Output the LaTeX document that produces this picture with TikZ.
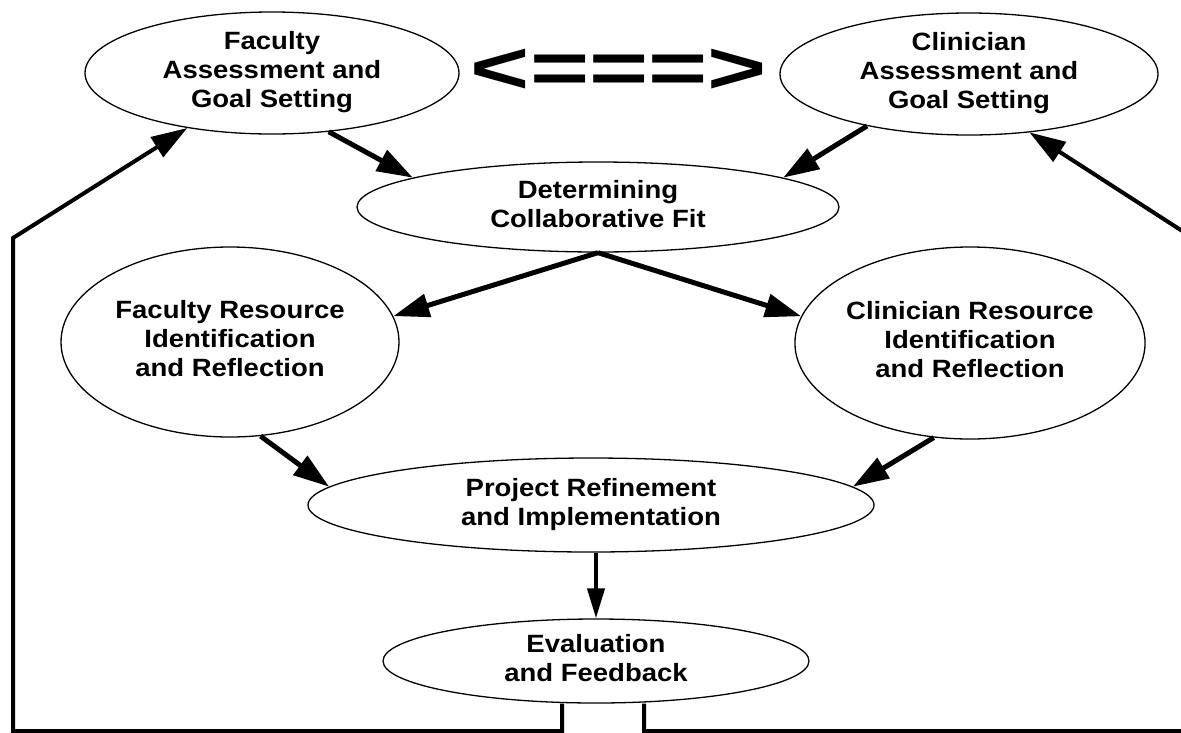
\documentclass[tikz,border=0pt]{standalone}
\usepackage{fontspec}
\setmainfont{Liberation Sans}
\usepackage{graphicx}
\usetikzlibrary{shapes.geometric,arrows.meta}
\newcommand\elltext[1]{\smash{\raisebox{-6.25pt}{\scalebox{1.1}[1]{\begin{tabular}{@{}c@{}}#1\end{tabular}}}}}
\begin{document}
\begin{tikzpicture}[x=1pt,y=-1pt,
  ell/.style={ellipse, draw, line width=1.3pt, inner sep=0pt, font=\bfseries\fontsize{25}{29}\selectfont},
  arr/.style={line width=5pt, -{Triangle[length=36pt,width=23pt]}},
  fb/.style={line width=4pt, line join=miter, -{Triangle[length=36pt,width=23pt]}}]
\useasboundingbox (0,0) rectangle (1181,732);
\fill[white] (0,0) rectangle (1181,732);
\node[ell, minimum width=374pt, minimum height=122pt] (facA) at (272,73) {\elltext{Faculty\\Assessment and\\Goal Setting}};
\node[ell, minimum width=378pt, minimum height=122pt] (clinA) at (969,74) {\elltext{Clinician\\Assessment and\\Goal Setting}};
\node[ell, minimum width=482pt, minimum height=90pt] (det) at (598,207) {\elltext{Determining\\Collaborative Fit}};
\node[ell, minimum width=338pt, minimum height=190pt] (facR) at (230,342) {\elltext{Faculty Resource\\Identification\\and Reflection}};
\node[ell, minimum width=340pt, minimum height=192pt] (clinR) at (970,343) {\elltext{Clinician Resource\\Identification\\and Reflection}};
\node[ell, minimum width=566pt, minimum height=94pt] (proj) at (591,505) {\elltext{Project Refinement\\and Implementation}};
\node[ell, minimum width=426pt, minimum height=84pt] (eval) at (596,661) {\elltext{Evaluation\\and Feedback}};
\node[inner sep=0pt, font=\bfseries\fontsize{74}{80}\selectfont] (dbl) at (619,71) {\scalebox{1.37}[1]{<===>}};
\draw[arr] (facA.-46) -- (det.171);
\draw[arr] (clinA.207) -- (det.9);
\draw[arr] (det.south) -- (facR.9);
\draw[arr] (det.south) -- (clinR.171);
\draw[arr] (facR.-72) -- (proj.176);
\draw[arr] (clinR.-111) -- (proj.4);
\draw[line width=4pt, -{Triangle[length=30pt,width=17pt]}] (proj.south -| eval.north) -- (eval.north);
\coordinate (bl) at (13,731);
\coordinate (tl) at (13,238);
\coordinate (br) at (1190,731);
\coordinate (tr) at (1190,236);
\draw[fb] ([xshift=-34pt]eval.south) |- (bl) -- (tl) -- (facA.213);
\draw[fb] ([xshift=48pt]eval.south) |- (br) -- (tr) -- (clinA.-44);
\end{tikzpicture}
\end{document}
